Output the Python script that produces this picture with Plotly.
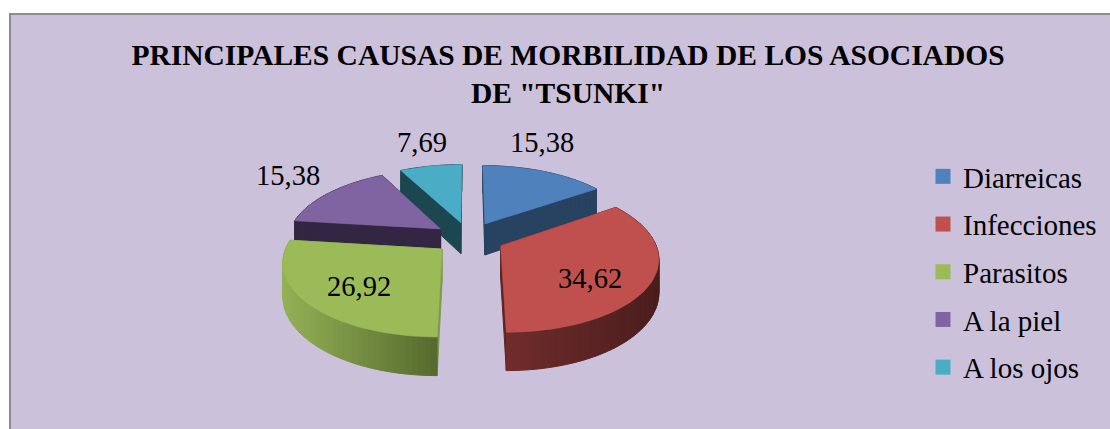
import math
import plotly.graph_objects as go

TITLE = 'PRINCIPALES CAUSAS DE MORBILIDAD DE LOS ASOCIADOS<br>DE "TSUNKI"'
categories = ["Diarreicas", "Infecciones", "Parasitos", "A la piel", "A los ojos"]
values = [15.38, 34.62, 26.92, 15.38, 7.69]
value_labels = ["15,38", "34,62", "26,92", "15,38", "7,69"]

top_colors = ["#4f81bd", "#c0504d", "#9bbb59", "#8064a2", "#4bacc6"]
cut_colors = ["#284261", "#5e2524", "#7f9a49", "#322642", "#1c4650"]
# outer-wall shading, from the left end of the wall to the right end
wall_left = ["#284261", "#702c2b", "#93b156", "#322642", "#1c4650"]
wall_right = ["#284261", "#4a1d1d", "#566a2e", "#322642", "#1c4650"]
label_pos = [(542, 142), (590, 278), (359, 286), (288, 175), (422, 142)]

CX, CY, RX, RY, K, EXPLODE, DEPTH = 469, 238, 153, 71, 0.15, 0.23, 32
BG = "#ccc1da"


def project(u, v, drop=0.0):
    s = 1 / (1 + K * v)
    return CX + RX * u * s, CY - RY * v * s + DEPTH * s * drop


def mix(a, b, t):
    ca = [int(a[i:i + 2], 16) for i in (1, 3, 5)]
    cb = [int(b[i:i + 2], 16) for i in (1, 3, 5)]
    return "rgb(%d,%d,%d)" % tuple(round(p + (q - p) * t) for p, q in zip(ca, cb))


def poly(points, color, width=1.0):
    xs, ys = zip(*points)
    return go.Scatter(
        x=list(xs) + [xs[0]], y=list(ys) + [ys[0]], mode="lines", fill="toself",
        fillcolor=color, line=dict(color=color, width=width), hoverinfo="skip",
        showlegend=False,
    )


total = sum(values)
slices = []
start = 0.0
for i, val in enumerate(values):
    sweep = val / total * 2 * math.pi
    slices.append((i, start, start + sweep))
    start += sweep

fig = go.Figure()
# paint from the back of the pie towards the viewer
order = sorted(slices, key=lambda s: math.cos((s[1] + s[2]) / 2), reverse=True)
for i, a0, a1 in order:
    mid = (a0 + a1) / 2
    ox, oy = EXPLODE * math.sin(mid), EXPLODE * math.cos(mid)
    n = max(4, int((a1 - a0) / math.radians(2)))
    angles = [a0 + (a1 - a0) * j / n for j in range(n + 1)]
    rim = [(ox + math.sin(a), oy + math.cos(a)) for a in angles]
    apex = (ox, oy)
    for end in (rim[0], rim[-1]):
        fig.add_trace(poly([project(*apex), project(*end), project(*end, 1), project(*apex, 1)], cut_colors[i]))
    xs = [project(*p)[0] for p in rim]
    lo, hi = min(xs), max(xs)
    for j in range(n):
        p, q = rim[j], rim[j + 1]
        t = ((project(*p)[0] + project(*q)[0]) / 2 - lo) / max(hi - lo, 1)
        fig.add_trace(poly([project(*p), project(*q), project(*q, 1), project(*p, 1)], mix(wall_left[i], wall_right[i], t)))
    fig.add_trace(poly([project(*apex)] + [project(*p) for p in rim], top_colors[i], 0.6))

for i, name in enumerate(categories):
    fig.add_trace(go.Scatter(
        x=[None], y=[None], mode="markers", name=name, legendgroup=name,
        marker=dict(symbol="square", size=15, color=top_colors[i]),
    ))

for text, (x, y) in zip(value_labels, label_pos):
    fig.add_annotation(x=x, y=y, xref="x", yref="y", text=text, showarrow=False,
                       font=dict(family="Liberation Serif", size=28.5, color="#000000"))

fig.add_shape(type="rect", x0=10, y0=14, x1=1130, y1=450, xref="x", yref="y",
              fillcolor=BG, line=dict(color="#8c8c8c", width=2), layer="below")

fig.update_layout(
    width=1110, height=429, margin=dict(l=0, r=0, t=0, b=0),
    paper_bgcolor="#ffffff", plot_bgcolor="#ffffff",
    xaxis=dict(range=[0, 1110], visible=False, fixedrange=True),
    yaxis=dict(range=[429, 0], visible=False, fixedrange=True),
    title=dict(text=TITLE, x=568 / 1110, xanchor="center", y=1 - 65 / 429, yanchor="middle",
               font=dict(family="Liberation Serif", size=29.5, color="#000000", weight="bold")),
    legend=dict(x=923 / 1110, xanchor="left", y=1 - 151 / 429, yanchor="top",
                font=dict(family="Liberation Serif", size=29, color="#000000"),
                bgcolor="rgba(0,0,0,0)", tracegroupgap=7, itemwidth=30),
)
fig.write_html("out.html", config={"displayModeBar": False},
               post_script="document.body.style.margin='0';document.body.style.overflow='hidden';")
